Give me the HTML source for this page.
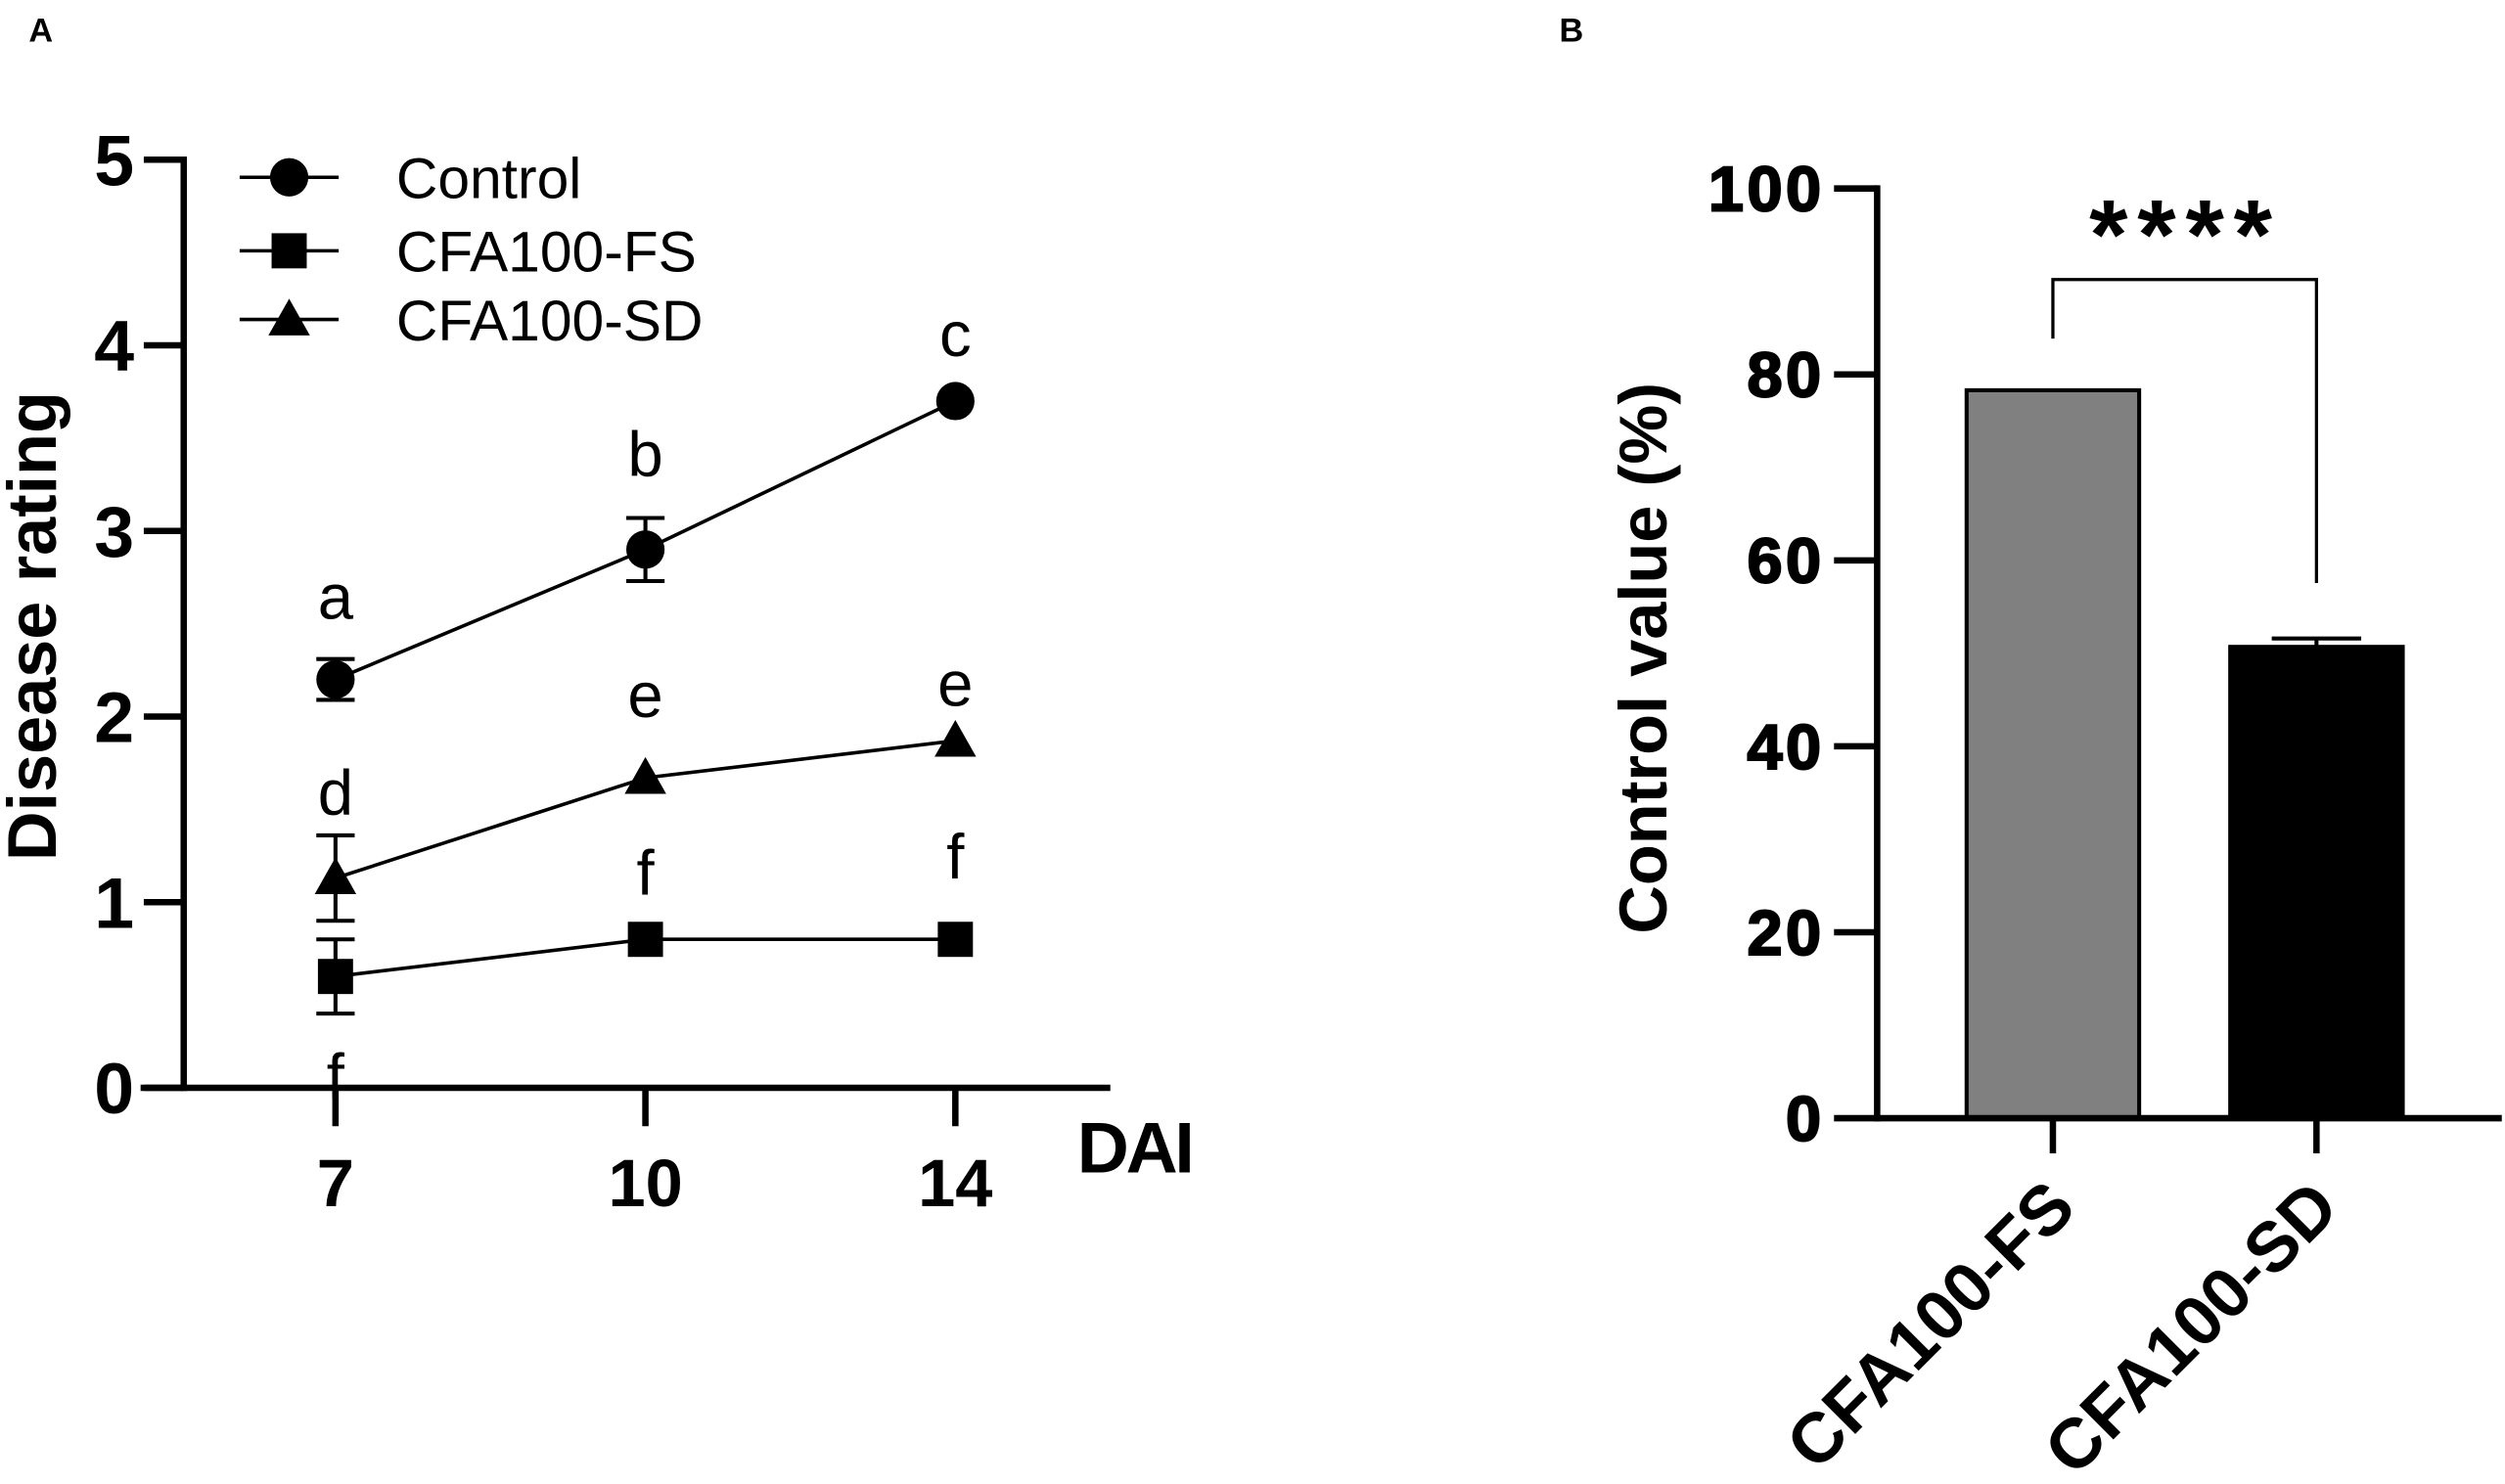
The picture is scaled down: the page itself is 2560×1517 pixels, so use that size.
<!DOCTYPE html>
<html><head><meta charset="utf-8"><style>
html,body{margin:0;padding:0;background:#fff}
svg{display:block;font-family:"Liberation Sans",Arial,sans-serif}
</style></head><body>
<svg id="fig" width="2560" height="1517" viewBox="0 0 1568 929" preserveAspectRatio="none" xmlns="http://www.w3.org/2000/svg">
<text x="18" y="26" font-size="21" font-weight="bold">A</text>
<text x="976" y="26" font-size="21" font-weight="bold">B</text>
<g id="pa"></g>
<g id="pb"></g>
</svg>
<script>
const days = ["7","10","14"];
const controlVals = [2.2, 2.9, 3.7];
const controlErr = [0.11, 0.17, 0.0];
const fsVals = [0.6, 0.8, 0.8];
const fsErr = [0.2, 0.0, 0.0];
const sdVals = [1.13, 1.67, 1.87];
const sdErr = [0.23, 0.0, 0.0];
const yTicksA = [0,1,2,3,4,5];
const controlLetters = ["a","b","c"];
const fsLetters = ["f","f","f"];
const sdLetters = ["d","e","e"];
const barCats = ["CFA100-FS","CFA100-SD"];
const barVals = [78.3, 50.7];
const barErr = [0, 0.9];
const yTicksB = [0,20,40,60,80,100];

const NS="http://www.w3.org/2000/svg";
function mk(parent,tag,attrs,text){const e=document.createElementNS(NS,tag);for(const k in attrs)e.setAttribute(k,attrs[k]);if(text!==undefined)e.textContent=text;parent.appendChild(e);return e;}

// Panel A
const pa=document.getElementById('pa');
const ya=v=>681-v*116.2;
const xa=i=>210+i*194;
let e;
e=mk(pa,'line',{x1:115,y1:98,x2:115,y2:683,stroke:'#000','stroke-width':4});


e=mk(pa,'line',{x1:88,y1:681,x2:695,y2:681,stroke:'#000','stroke-width':4});


yTicksA.forEach(t=>{
  e=mk(pa,'line',{x1:90,y1:ya(t),x2:115,y2:ya(t),stroke:'#000','stroke-width':4});
  
  
  e=mk(pa,'text',{x:84,y:ya(t)+16,'font-size':45,'font-weight':'bold','text-anchor':'end'},String(t));
  
  
});
days.forEach((d,i)=>{
  e=mk(pa,'line',{x1:xa(i),y1:681,x2:xa(i),y2:705,stroke:'#000','stroke-width':4});
  
  
  e=mk(pa,'text',{x:xa(i),y:755,'font-size':42,'font-weight':'bold','text-anchor':'middle'},d);
  
  
});
e=mk(pa,'text',{x:710,y:734,'font-size':45,'font-weight':'bold','text-anchor':'middle','letter-spacing':-2},'DAI');


e=mk(pa,'text',{x:0,y:0,'font-size':43,'font-weight':'bold','text-anchor':'middle',transform:'translate(35,392) rotate(-90)'},'Disease rating');



function marker(g,type,x,y){
  if(type==='circle') return mk(g,'circle',{cx:x,cy:y,r:12,fill:'#000'});
  if(type==='square') return mk(g,'rect',{x:x-11,y:y-11,width:22,height:22,fill:'#000'});
  return mk(g,'polygon',{points:`${x},${y-13} ${x+13},${y+10} ${x-13},${y+10}`,fill:'#000'});
}
const series=[
  {name:'control',vals:controlVals,err:controlErr,m:'circle',letters:controlLetters,lo:[-38,-46,-28]},
  {name:'cfa100-sd',vals:sdVals,err:sdErr,m:'triangle',letters:sdLetters,lo:[-40,-38,-22]},
  {name:'cfa100-fs',vals:fsVals,err:fsErr,m:'square',letters:fsLetters,lo:[76,-28,-38]}
];
series.forEach(s=>{
  const g=mk(pa,'g',{});
  
  
  e=mk(g,'polyline',{points:s.vals.map((v,i)=>xa(i)+','+ya(v)).join(' '),fill:'none',stroke:'#000','stroke-width':2.2});
  
  
  s.vals.forEach((v,i)=>{
    if(s.err[i]>0){
      const x=xa(i),t=ya(v+s.err[i]),b=ya(v-s.err[i]);
      e=mk(g,'path',{d:`M${x},${t}V${b}M${x-12},${t}H${x+12}M${x-12},${b}H${x+12}`,stroke:'#000','stroke-width':2.5,fill:'none'});
      
      
    }
    e=marker(g,s.m,xa(i),ya(v));
    
    
    e=mk(g,'text',{x:xa(i),y:ya(v)+s.lo[i],'font-size':40,'text-anchor':'middle'},s.letters[i]);
    
    
  });
});
const legend=[['Control','circle',111],['CFA100-FS','square',157],['CFA100-SD','triangle',200]];
legend.forEach(l=>{
  const g=mk(pa,'g',{});
  
  
  mk(g,'line',{x1:150,y1:l[2],x2:212,y2:l[2],stroke:'#000','stroke-width':2.2});
  marker(g,l[1],181,l[2]);
  mk(g,'text',{x:248,y:l[2]+13,'font-size':36},l[0]);
});

// Panel B
const pb=document.getElementById('pb');
const yb=v=>700-v*5.82;
const xb=i=>1285+i*165;
e=mk(pb,'line',{x1:1175,y1:116,x2:1175,y2:702,stroke:'#000','stroke-width':4});


yTicksB.forEach(t=>{
  e=mk(pb,'line',{x1:1148,y1:yb(t),x2:1175,y2:yb(t),stroke:'#000','stroke-width':4});
  
  
  e=mk(pb,'text',{x:1142,y:yb(t)+14,'font-size':40,'font-weight':'bold','text-anchor':'end','letter-spacing':2,'stroke':'#000','stroke-width':1.2},String(t));
  
  
});
barCats.forEach((c,i)=>{
  const x=xb(i),top=yb(barVals[i]);
  e=mk(pb,'rect',{x:x-54,y:top,width:108,height:700-top,fill:i===0?'#808080':'#000',stroke:'#000','stroke-width':2.5});
  
  
  if(barErr[i]>0){
    const t=yb(barVals[i]+barErr[i]);
    e=mk(pb,'path',{d:`M${x},${t}V${top}M${x-28},${t}H${x+28}`,stroke:'#000','stroke-width':2.5,fill:'none'});
    
    
  }
  e=mk(pb,'line',{x1:x,y1:700,x2:x,y2:722,stroke:'#000','stroke-width':4});
  
  
  e=mk(pb,'text',{x:0,y:0,'font-size':44,'font-weight':'bold','text-anchor':'end',transform:`translate(${x+16},${758}) rotate(-45)`},c);
  
  
});
e=mk(pb,'line',{x1:1175,y1:700,x2:1566,y2:700,stroke:'#000','stroke-width':4});


e=mk(pb,'text',{x:0,y:0,'font-size':42,'font-weight':'bold','text-anchor':'middle',transform:'translate(1043,412) rotate(-90)'},'Control value (%)');


e=mk(pb,'path',{d:`M${xb(0)},212V175H${xb(1)}V365`,stroke:'#000','stroke-width':2,fill:'none'});


e=mk(pb,'text',{x:1368,y:168,'font-size':62,'font-weight':'bold','text-anchor':'middle','letter-spacing':6},'****');


</script>
</body></html>
